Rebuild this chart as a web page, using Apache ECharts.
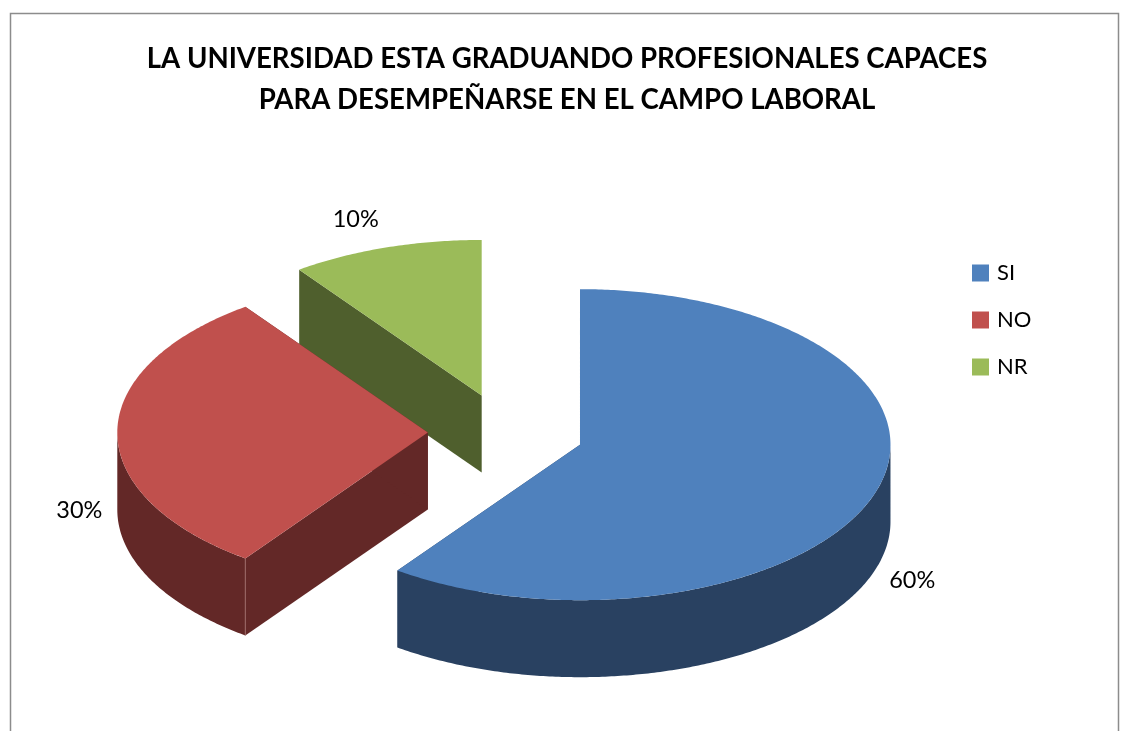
<!DOCTYPE html>
<html>
<head>
<meta charset="utf-8">
<style>html,body{margin:0;padding:0;background:#fff}#c{width:1123px;height:731px}</style>
<script src="https://cdn.jsdelivr.net/npm/echarts@6/dist/echarts.min.js"></script>
</head>
<body>
<div id="c"></div>
<script>
const categories = ['SI', 'NO', 'NR'];
const values = [60, 30, 10];
const labels = ['60%', '30%', '10%'];
const titleText = 'LA UNIVERSIDAD ESTA GRADUANDO PROFESIONALES CAPACES\nPARA DESEMPEÑARSE EN EL CAMPO LABORAL';
const topColors = ['#4F81BD', '#C0504D', '#9BBB59'];
const sideColors = ['#294161', '#632827', '#4F5F2D'];
const seamColors = ['#5c7596', '#9a6664', '#7a8a5a'];
const labelNudge = [[37, 10.5], [-38, 0.5], [-30, -28.5]];

const geo = { cx: 505.8, cy: 432.6, rx: 310.5, ry: 155.5, depth: 77, explode: 78 };
const total = values.reduce((a, b) => a + b, 0);
const starts = values.map((_, i) => values.slice(0, i).reduce((a, b) => a + b, 0) / total * Math.PI * 2);

function renderSlice(i, api) {
  const value = api.value(0);
  const a0 = starts[i];
  const a1 = a0 + value / total * Math.PI * 2;
  const mid = (a0 + a1) / 2;
  const cx = geo.cx + Math.sin(mid) * geo.explode;
  const cy = geo.cy - Math.cos(mid) * geo.explode * geo.ry / geo.rx;
  const pt = (a, dz) => [cx + Math.sin(a) * geo.rx, cy - Math.cos(a) * geo.ry + (dz || 0)];
  const arc = (from, to, dz) => {
    const n = Math.max(2, Math.ceil(Math.abs(to - from) / 0.01));
    const out = [];
    for (let k = 0; k <= n; k++) out.push(pt(from + (to - from) * k / n, dz));
    return out;
  };
  const side = { fill: sideColors[i] };
  const children = [];
  const c0 = [cx, cy], c1 = [cx, cy + geo.depth];
  const wall = (a) => ({
    type: 'polygon',
    shape: { points: [c0, pt(a), pt(a, geo.depth), c1] },
    style: side
  });
  children.push(wall(a0), wall(a1));
  const f0 = Math.max(a0, Math.PI / 2), f1 = Math.min(a1, Math.PI * 1.5);
  if (f1 > f0) {
    children.push({
      type: 'polygon',
      shape: { points: arc(f0, f1, 0).concat(arc(f1, f0, geo.depth)) },
      style: side
    });
  }
  // light seam on the visible vertical edge between two side faces
  if (i === 1) {
    children.push({
      type: 'line',
      shape: { x1: pt(a0)[0], y1: pt(a0)[1], x2: pt(a0)[0], y2: pt(a0)[1] + geo.depth },
      style: { stroke: seamColors[i], lineWidth: 1 }
    });
  }
  children.push({
    type: 'polygon',
    shape: { points: [c0].concat(arc(a0, a1, 0)) },
    style: { fill: topColors[i] }
  });
  const edge = pt(mid, Math.cos(mid) < 0.2 ? geo.depth : 0);
  children.push({
    type: 'text',
    style: {
      x: edge[0] + labelNudge[i][0],
      y: edge[1] + labelNudge[i][1],
      text: labels[i],
      fill: '#000',
      font: '23.5px Lato',
      textAlign: 'center',
      textVerticalAlign: 'middle'
    }
  });
  return { type: 'group', children };
}

const chart = echarts.init(document.getElementById('c'), null, { renderer: 'canvas' });
chart.setOption({
  animation: false,
  backgroundColor: '#fff',
  title: {
    text: titleText,
    left: 567,
    top: 39,
    padding: 0,
    textAlign: 'center',
    textStyle: { fontFamily: 'Lato', fontWeight: 'bold', fontSize: 27.6, lineHeight: 41, color: '#000' }
  },
  legend: {
    orient: 'vertical',
    left: 972,
    top: 262,
    padding: 0,
    itemWidth: 17,
    itemHeight: 17,
    itemGap: 25,
    icon: 'rect',
    data: categories,
    textStyle: { fontFamily: 'Lato', fontSize: 22, color: '#000', padding: [0, 0, 0, 3] }
  },
  graphic: [{
    type: 'polyline',
    shape: { points: [[10.5, 731], [10.5, 13.5], [1118.5, 13.5], [1118.5, 731]] },
    style: { stroke: '#8c8c8c', lineWidth: 1.5, fill: null },
    silent: true
  }],
  series: categories.map((name, i) => ({
    type: 'custom',
    name,
    coordinateSystem: 'none',
    z: 5 - i,
    silent: true,
    itemStyle: { color: topColors[i] },
    data: [[values[i]]],
    encode: { value: 0 },
    renderItem: (params, api) => renderSlice(i, api)
  }))
});
</script>
</body>
</html>
